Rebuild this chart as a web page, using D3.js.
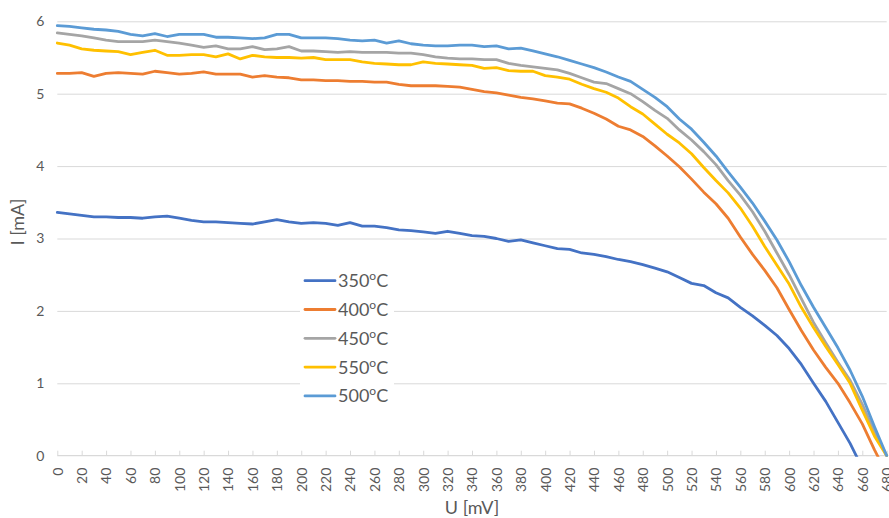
<!DOCTYPE html>
<html>
<head>
<meta charset="utf-8">
<script src="https://cdn.jsdelivr.net/npm/d3@7"></script>
<style>
  html, body { margin: 0; padding: 0; background: #ffffff; }
  svg { display: block; }
</style>
</head>
<body>
<svg id="chart" width="889" height="518"></svg>
<script>
// ---------------- data ----------------
const U_MV = [0,10,20,30,40,50,60,70,80,90,100,110,120,130,140,150,160,170,180,190,
  200,210,220,230,240,250,260,270,280,290,300,310,320,330,340,350,360,370,380,390,
  400,410,420,430,440,450,460,470,480,490,500,510,520,530,540,550,560,570,580,590,
  600,610,620,630,640,650,660,670,680];

const X_TICKS = [0,20,40,60,80,100,120,140,160,180,200,220,240,260,280,300,320,340,
  360,380,400,420,440,460,480,500,520,540,560,580,600,620,640,660,680];

const Y_TICKS = [0,1,2,3,4,5,6];

const SERIES_NAMES = ["350", "400", "450", "550", "500"];

const I_350 = [3.36,3.34,3.32,3.30,3.30,3.29,3.29,3.28,3.30,3.31,3.28,3.25,3.23,3.23,3.22,3.21,3.20,3.23,3.26,3.23,
  3.21,3.22,3.21,3.18,3.22,3.17,3.17,3.15,3.12,3.11,3.09,3.07,3.10,3.07,3.04,3.03,3.00,2.96,2.98,2.94,
  2.90,2.86,2.85,2.80,2.78,2.75,2.71,2.68,2.64,2.59,2.54,2.46,2.38,2.35,2.25,2.18,2.05,1.93,1.80,1.66,
  1.48,1.26,1.00,0.75,0.46,0.17,-0.17];

const I_400 = [5.28,5.28,5.29,5.24,5.28,5.29,5.28,5.27,5.31,5.29,5.27,5.28,5.30,5.27,5.27,5.27,5.23,5.25,5.23,5.22,
  5.19,5.19,5.18,5.18,5.17,5.17,5.16,5.16,5.13,5.11,5.11,5.11,5.10,5.09,5.06,5.03,5.01,4.98,4.95,4.93,
  4.90,4.87,4.86,4.80,4.73,4.65,4.55,4.50,4.41,4.28,4.14,3.99,3.82,3.64,3.48,3.28,3.02,2.78,2.56,2.32,
  2.02,1.73,1.46,1.22,1.00,0.73,0.44,0.08,-0.25];

const I_450 = [5.84,5.82,5.80,5.77,5.74,5.72,5.72,5.72,5.74,5.72,5.70,5.67,5.64,5.66,5.62,5.62,5.65,5.61,5.62,5.65,
  5.59,5.59,5.58,5.57,5.58,5.57,5.57,5.57,5.56,5.56,5.54,5.51,5.49,5.48,5.48,5.47,5.47,5.42,5.39,5.37,
  5.35,5.33,5.28,5.22,5.16,5.14,5.07,5.00,4.89,4.77,4.66,4.50,4.36,4.20,4.02,3.80,3.60,3.37,3.10,2.80,
  2.50,2.17,1.84,1.56,1.29,1.04,0.71,0.33,0.00];

const I_550 = [5.70,5.67,5.62,5.60,5.59,5.58,5.54,5.57,5.60,5.53,5.53,5.54,5.54,5.51,5.55,5.48,5.53,5.51,5.50,5.50,
  5.49,5.50,5.47,5.47,5.47,5.44,5.42,5.41,5.40,5.40,5.44,5.42,5.41,5.40,5.39,5.35,5.36,5.32,5.31,5.31,
  5.25,5.23,5.20,5.13,5.07,5.02,4.94,4.82,4.72,4.58,4.44,4.32,4.17,3.98,3.80,3.63,3.42,3.17,2.89,2.63,
  2.37,2.05,1.77,1.51,1.26,1.00,0.63,0.27,0.00];

const I_500 = [5.94,5.93,5.91,5.89,5.88,5.86,5.82,5.80,5.83,5.79,5.82,5.82,5.82,5.78,5.78,5.77,5.76,5.77,5.82,5.82,
  5.77,5.77,5.77,5.76,5.74,5.73,5.74,5.70,5.73,5.69,5.67,5.66,5.66,5.67,5.67,5.65,5.66,5.62,5.63,5.59,
  5.55,5.51,5.46,5.41,5.36,5.30,5.23,5.17,5.06,4.95,4.82,4.65,4.51,4.33,4.14,3.92,3.71,3.49,3.24,2.98,
  2.68,2.35,2.05,1.77,1.49,1.18,0.82,0.40,0.00];

const SERIES_VALUES = [I_350, I_400, I_450, I_550, I_500];
const COLORS = ["#4472C4", "#ED7D31", "#A5A5A5", "#FFC000", "#5B9BD5"];

// ---------------- layout ----------------
const FONT = "Lato, 'Open Sans', 'Liberation Sans', sans-serif";
const TEXT_COLOR = "#595959";
const GRID_COLOR = "#d9d9d9";

const svg = d3.select("#chart");

const x = d3.scaleLinear().domain([0, 680]).range([57.3, 886.7]);
const y = d3.scaleLinear().domain([0, 6]).range([455.7, 21.3]);

// clip path for plot area
svg.append("defs").append("clipPath").attr("id", "plotClip")
  .append("rect")
  .attr("x", x(0) - 2).attr("y", y(6) - 5)
  .attr("width", x(680) - x(0) + 6).attr("height", y(0) - y(6) + 6);

// gridlines (y = 1..6)
svg.append("g")
  .attr("transform", `translate(${x(0)},0)`)
  .call(d3.axisLeft(y).tickValues(Y_TICKS.filter(v => v > 0))
    .tickSize(-(x(680) - x(0))).tickFormat(""))
  .call(g => g.select(".domain").remove())
  .call(g => g.selectAll(".tick line").attr("stroke", GRID_COLOR).attr("stroke-width", 1));

// y tick labels
svg.append("g")
  .attr("transform", `translate(${x(0)},0)`)
  .call(d3.axisLeft(y).tickValues(Y_TICKS).tickSize(0).tickPadding(13).tickFormat(d3.format("d")))
  .call(g => g.select(".domain").remove())
  .call(g => g.selectAll("text")
    .attr("fill", TEXT_COLOR).attr("font-family", FONT).attr("font-size", 14));

// x axis: line + ticks upward
const xAxis = svg.append("g")
  .attr("transform", `translate(0,${y(0)})`)
  .call(d3.axisTop(x).tickValues(X_TICKS).tickSize(5).tickFormat(""))
  .call(g => g.select(".domain").attr("stroke", GRID_COLOR).attr("stroke-width", 1.2)
    .attr("d", `M${x(0)},0H${x(680)}`))
  .call(g => g.selectAll(".tick line").attr("stroke", GRID_COLOR).attr("stroke-width", 1));

// x tick labels (rotated)
svg.append("g")
  .attr("transform", `translate(0,${y(0)})`)
  .call(d3.axisBottom(x).tickValues(X_TICKS).tickSize(0).tickFormat(d3.format("d")))
  .call(g => g.select(".domain").remove())
  .call(g => g.selectAll("text")
    .attr("fill", TEXT_COLOR).attr("font-family", FONT).attr("font-size", 14)
    .attr("transform", "translate(0,12) rotate(-90)")
    .attr("text-anchor", "end")
    .attr("x", 0).attr("y", 0).attr("dy", "0.35em"));

// series lines
const line = d3.line()
  .x((d, i) => x(U_MV[i]))
  .y(d => y(d));

const seriesG = svg.append("g").attr("clip-path", "url(#plotClip)");
SERIES_VALUES.forEach((vals, k) => {
  seriesG.append("path")
    .datum(vals)
    .attr("fill", "none")
    .attr("stroke", COLORS[k])
    .attr("stroke-width", 2.8)
    .attr("stroke-linejoin", "round")
    .attr("stroke-linecap", "round")
    .attr("d", line);
});

// axis titles
svg.append("text")
  .attr("x", 472).attr("y", 514)
  .attr("text-anchor", "middle")
  .attr("font-family", FONT).attr("font-size", 18)
  .attr("fill", TEXT_COLOR)
  .text("U [mV]");

svg.append("text")
  .attr("transform", "translate(24,222) rotate(-90)")
  .attr("text-anchor", "middle")
  .attr("font-family", FONT).attr("font-size", 18)
  .attr("fill", TEXT_COLOR)
  .text("I [mA]");

// legend
const legend = svg.append("g");
legend.append("rect")
  .attr("x", 300).attr("y", 266).attr("width", 94).attr("height", 144)
  .attr("fill", "#ffffff");

const LEG_Y0 = 280.7, LEG_DY = 28.8;
SERIES_NAMES.forEach((name, k) => {
  const ly = LEG_Y0 + k * LEG_DY;
  legend.append("line")
    .attr("x1", 305).attr("x2", 335)
    .attr("y1", ly).attr("y2", ly)
    .attr("stroke", COLORS[k]).attr("stroke-width", 2.8)
    .attr("stroke-linecap", "round");
  const t = legend.append("text")
    .attr("x", 338).attr("y", ly + 6.5)
    .attr("font-family", FONT).attr("font-size", 18)
    .attr("fill", TEXT_COLOR);
  t.append("tspan").text(name);
  t.append("tspan").attr("font-size", 12).attr("dy", -7).text("o");
  t.append("tspan").attr("dy", 7).text("C");
});
</script>
</body>
</html>
